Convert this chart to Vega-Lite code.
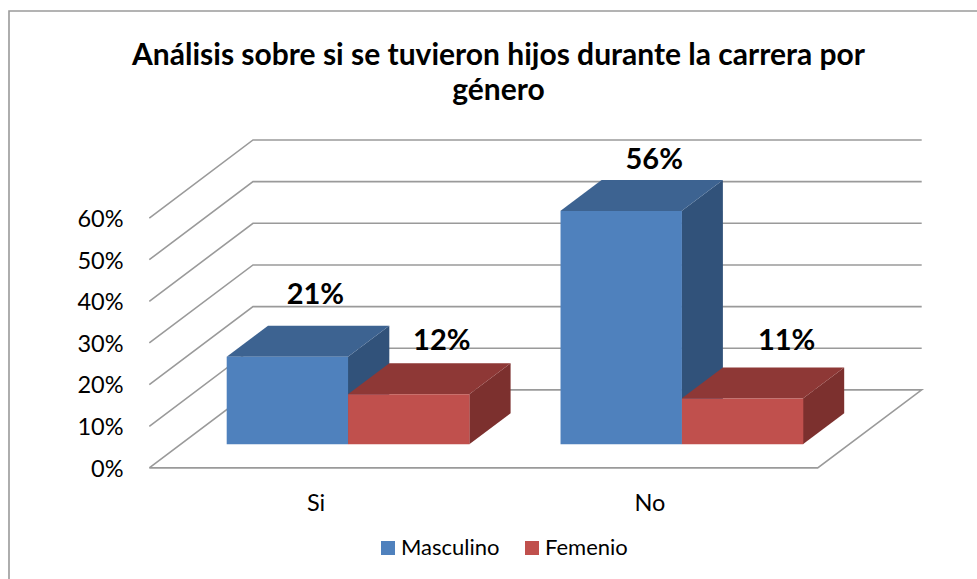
{
"$schema":"https://vega.github.io/schema/vega-lite/v6.json",
"width":977,"height":579,"padding":0,"autosize":"none",
"background":"white",
"config":{"view":{"stroke":null},"font":"Lato"},
"title":{"text":["Análisis sobre si se tuvieron hijos durante la carrera por","género"],"orient":"top","anchor":"middle","frame":"group","offset":-136,"dx":10,"fontSize":30,"fontWeight":"bold","color":"#000000","lineHeight":35,"font":"Lato","baseline":"bottom"},
"datasets":{
"barras":[
{"opcion":"Si","genero":"Masculino","valor":21,"etiqueta":"21%"},
{"opcion":"Si","genero":"Femenio","valor":12,"etiqueta":"12%"},
{"opcion":"No","genero":"Masculino","valor":56,"etiqueta":"56%"},
{"opcion":"No","genero":"Femenio","valor":11,"etiqueta":"11%"}],
"niveles":[{"nivel":0},{"nivel":10},{"nivel":20},{"nivel":30},{"nivel":40},{"nivel":50},{"nivel":60}],
"paredes":[
{"g":"marco","n":1,"x":0.9,"y":-32.34},{"g":"marco","n":2,"x":0.9,"y":104.03},{"g":"marco","n":3,"x":97.7,"y":104.03},
{"g":"0","n":1,"x":14.93,"y":-5.67},{"g":"0","n":2,"x":25.3,"y":13.07},{"g":"0","n":3,"x":92.17,"y":13.07},{"g":"0","n":4,"x":81.77,"y":-5.67},{"g":"0","n":5,"x":14.93,"y":-5.67},
{"g":"10","n":1,"x":14.93,"y":4.33},{"g":"10","n":2,"x":25.3,"y":23.07},{"g":"10","n":3,"x":92.17,"y":23.07},
{"g":"20","n":1,"x":14.93,"y":14.33},{"g":"20","n":2,"x":25.3,"y":33.07},{"g":"20","n":3,"x":92.17,"y":33.07},
{"g":"30","n":1,"x":14.93,"y":24.33},{"g":"30","n":2,"x":25.3,"y":43.07},{"g":"30","n":3,"x":92.17,"y":43.07},
{"g":"40","n":1,"x":14.93,"y":34.33},{"g":"40","n":2,"x":25.3,"y":53.07},{"g":"40","n":3,"x":92.17,"y":53.07},
{"g":"50","n":1,"x":14.93,"y":44.33},{"g":"50","n":2,"x":25.3,"y":63.07},{"g":"50","n":3,"x":92.17,"y":63.07},
{"g":"60","n":1,"x":14.93,"y":54.33},{"g":"60","n":2,"x":25.3,"y":73.07},{"g":"60","n":3,"x":92.17,"y":73.07}],
"caras":[
{"barra":"Si-M","cara":"lateral M","x":34.80,"y":21,"y2":0},{"barra":"Si-M","cara":"lateral M","x":38.93,"y":28.44,"y2":7.44},
{"barra":"No-M","cara":"lateral M","x":68.16,"y":56,"y2":0},{"barra":"No-M","cara":"lateral M","x":72.29,"y":63.44,"y2":7.44},
{"barra":"Si-M","cara":"superior M","x":22.67,"y":21,"y2":21},{"barra":"Si-M","cara":"superior M","x":26.80,"y":28.44,"y2":21},{"barra":"Si-M","cara":"superior M","x":34.80,"y":28.44,"y2":21},{"barra":"Si-M","cara":"superior M","x":38.93,"y":28.44,"y2":28.44},
{"barra":"No-M","cara":"superior M","x":56.03,"y":56,"y2":56},{"barra":"No-M","cara":"superior M","x":60.16,"y":63.44,"y2":56},{"barra":"No-M","cara":"superior M","x":68.16,"y":63.44,"y2":56},{"barra":"No-M","cara":"superior M","x":72.29,"y":63.44,"y2":63.44},
{"barra":"Si-F","cara":"lateral F","x":46.93,"y":12,"y2":0},{"barra":"Si-F","cara":"lateral F","x":51.06,"y":19.44,"y2":7.44},
{"barra":"No-F","cara":"lateral F","x":80.29,"y":11,"y2":0},{"barra":"No-F","cara":"lateral F","x":84.42,"y":18.44,"y2":7.44},
{"barra":"Si-F","cara":"superior F","x":34.80,"y":12,"y2":12},{"barra":"Si-F","cara":"superior F","x":38.93,"y":19.44,"y2":12},{"barra":"Si-F","cara":"superior F","x":46.93,"y":19.44,"y2":12},{"barra":"Si-F","cara":"superior F","x":51.06,"y":19.44,"y2":19.44},
{"barra":"No-F","cara":"superior F","x":68.16,"y":11,"y2":11},{"barra":"No-F","cara":"superior F","x":72.29,"y":18.44,"y2":11},{"barra":"No-F","cara":"superior F","x":80.29,"y":18.44,"y2":11},{"barra":"No-F","cara":"superior F","x":84.42,"y":18.44,"y2":18.44}]
},
"resolve":{"scale":{"x":"independent","y":"independent"},"axis":{"x":"independent","y":"independent"}},
"layer":[
{"data":{"name":"niveles"},"mark":{"type":"rule","opacity":0},
 "encoding":{"y":{"field":"nivel","type":"quantitative","scale":{"domain":[0,60],"range":[469,219.7],"nice":false,"zero":false},
 "axis":{"orient":"left","offset":-123,"values":[0,10,20,30,40,50,60],"labelExpr":"datum.value + '%'","ticks":false,"domain":false,"grid":false,"title":null,"labelFontSize":23.5,"labelPadding":0,"labelColor":"#000000","labelFont":"Lato"}}}},
{"layer":[
 {"data":{"name":"paredes"},"mark":{"type":"line","stroke":"#9a9a9a","strokeWidth":1.6},
  "encoding":{"x":{"field":"x","type":"quantitative","scale":{"domain":[0,97.7],"nice":false,"zero":false},"axis":null},
   "y":{"field":"y","type":"quantitative","scale":{"domain":[-32.34,106.68],"nice":false,"zero":false},"axis":null},
   "detail":{"field":"g"},"order":{"field":"n"}}},
 {"data":{"name":"caras"},"transform":[{"filter":"datum.cara=='lateral M'"}],"mark":{"type":"area","fill":"#31527A"},
  "encoding":{"x":{"field":"x","type":"quantitative"},"y":{"field":"y","type":"quantitative"},"y2":{"field":"y2"},"detail":{"field":"barra"}}},
 {"data":{"name":"caras"},"transform":[{"filter":"datum.cara=='superior M'"}],"mark":{"type":"area","fill":"#3D6391"},
  "encoding":{"x":{"field":"x","type":"quantitative"},"y":{"field":"y","type":"quantitative"},"y2":{"field":"y2"},"detail":{"field":"barra"}}},
 {"data":{"name":"caras"},"transform":[{"filter":"datum.cara=='lateral F'"}],"mark":{"type":"area","fill":"#7C302E"},
  "encoding":{"x":{"field":"x","type":"quantitative"},"y":{"field":"y","type":"quantitative"},"y2":{"field":"y2"},"detail":{"field":"barra"}}},
 {"data":{"name":"caras"},"transform":[{"filter":"datum.cara=='superior F'"}],"mark":{"type":"area","fill":"#8E3836"},
  "encoding":{"x":{"field":"x","type":"quantitative"},"y":{"field":"y","type":"quantitative"},"y2":{"field":"y2"},"detail":{"field":"barra"}}}
]},
{"data":{"name":"barras"},
 "encoding":{
  "x":{"field":"opcion","type":"nominal","sort":["Si","No"],"scale":{"domain":["Si","No"],"range":[226.7,803.3],"paddingInner":0.2728,"paddingOuter":0},
   "axis":{"orient":"bottom","offset":-88,"labelOffset":-32,"title":null,"ticks":false,"domain":false,"grid":false,"labelAngle":0,"labelFontSize":23.5,"labelColor":"#000000","labelFont":"Lato","labelPadding":0}},
  "xOffset":{"field":"genero","type":"nominal","sort":["Masculino","Femenio"],"scale":{"domain":["Masculino","Femenio"],"paddingInner":0,"paddingOuter":0}},
  "y":{"field":"valor","type":"quantitative","scale":{"domain":[-32.34,106.68],"nice":false,"zero":false},"axis":null}},
 "layer":[
  {"mark":{"type":"bar"},
   "encoding":{"y2":{"datum":0},
    "color":{"field":"genero","type":"nominal","sort":["Masculino","Femenio"],"scale":{"domain":["Masculino","Femenio"],"range":["#4F81BD","#C0504D"]},
     "legend":{"orient":"none","legendX":377,"legendY":537,"direction":"horizontal","title":null,"symbolType":"square","symbolSize":196,"symbolStrokeWidth":0,"labelFontSize":22,"labelColor":"#000000","labelFont":"Lato","labelOffset":2,"columnPadding":21,"symbolOpacity":1}}}},
  {"transform":[{"filter":"datum.etiqueta=='21%'"}],"mark":{"type":"text","fontSize":29,"fontWeight":"bold","font":"Lato","color":"#000000","dx":28,"dy":-62},"encoding":{"text":{"field":"etiqueta"}}},
  {"transform":[{"filter":"datum.etiqueta=='12%'"}],"mark":{"type":"text","fontSize":29,"fontWeight":"bold","font":"Lato","color":"#000000","dx":33,"dy":-53},"encoding":{"text":{"field":"etiqueta"}}},
  {"transform":[{"filter":"datum.etiqueta=='56%'"}],"mark":{"type":"text","fontSize":29,"fontWeight":"bold","font":"Lato","color":"#000000","dx":33,"dy":-51},"encoding":{"text":{"field":"etiqueta"}}},
  {"transform":[{"filter":"datum.etiqueta=='11%'"}],"mark":{"type":"text","fontSize":29,"fontWeight":"bold","font":"Lato","color":"#000000","dx":44,"dy":-57},"encoding":{"text":{"field":"etiqueta"}}}
 ]}
]
}
